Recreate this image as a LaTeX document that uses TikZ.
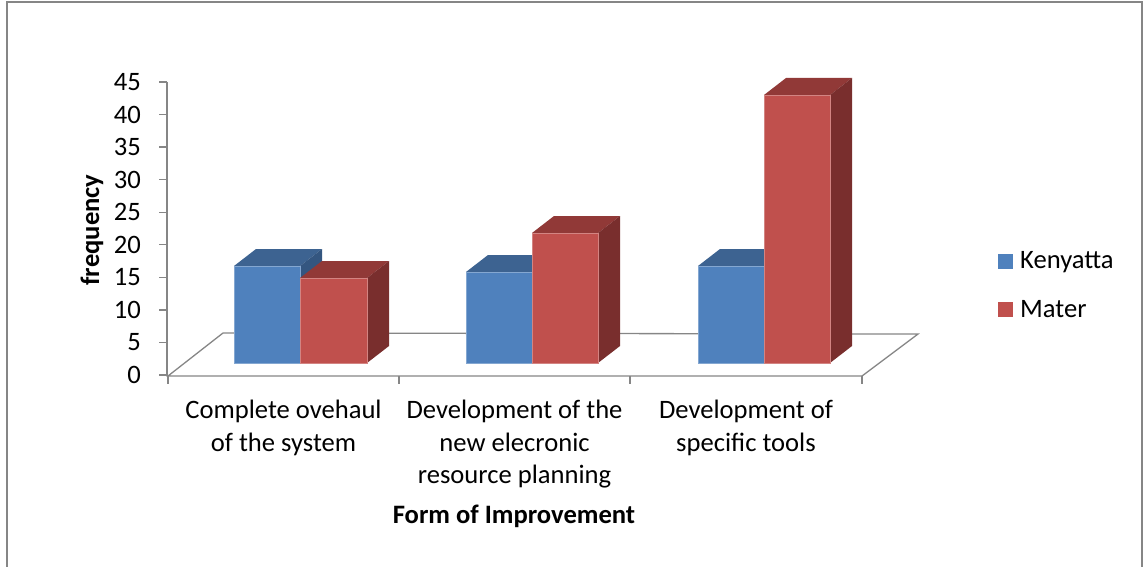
\documentclass[tikz,border=0pt]{standalone}
\usepackage{fontspec}
\setmainfont{Carlito}
\usepackage{tikz}
\definecolor{kenFront}{RGB}{79,129,189}
\definecolor{kenTop}{RGB}{61,99,145}
\definecolor{kenSide}{RGB}{52,86,128}
\definecolor{matFront}{RGB}{192,80,77}
\definecolor{matTop}{RGB}{145,57,55}
\definecolor{matSide}{RGB}{121,46,45}
\definecolor{axisGray}{RGB}{134,134,134}
\tikzstyle{axisLine}=[draw = axisGray, line width = 1.3pt]
\tikzstyle{labelText}=[font = \fontsize{26.6}{32.5}\selectfont, inner sep = 0pt]
\tikzstyle{valueLabel}=[labelText, anchor = east]

\begin{document}
\begin{tikzpicture}[x = 1pt, y = -1pt]
\tikzstyle{kenyattaFace}=[fill = kenFront, draw = kenFront!70!white, line width = 0.6pt]
\tikzstyle{materFace}=[fill = matFront, draw = matFront!70!white, line width = 0.6pt]
\tikzstyle{categoryLabel}=[labelText, align = center, anchor = north]
\useasboundingbox (0,0) rectangle (1144,567);
\draw[draw = axisGray, line width = 1.3pt] (7,2) rectangle (1142,580);
% floor
\draw[axisLine] (168,376) -- (862,376) -- (918,334) -- (223,333) -- cycle;
\draw[axisLine] (168,376) -- (168,384);
\draw[axisLine] (399,376) -- (399,384);
\draw[axisLine] (630,376) -- (630,384);
\draw[axisLine] (862,376) -- (862,384);
% value axis
\draw[axisLine] (167,82) -- (167,376);
\draw[axisLine] (159,375.0) -- (167,375.0);
\draw[axisLine] (159,342.4) -- (167,342.4);
\draw[axisLine] (159,309.9) -- (167,309.9);
\draw[axisLine] (159,277.3) -- (167,277.3);
\draw[axisLine] (159,244.8) -- (167,244.8);
\draw[axisLine] (159,212.2) -- (167,212.2);
\draw[axisLine] (159,179.7) -- (167,179.7);
\draw[axisLine] (159,147.1) -- (167,147.1);
\draw[axisLine] (159,114.6) -- (167,114.6);
\draw[axisLine] (159,82.0) -- (167,82.0);
\node[valueLabel] (v0) at (141,375.0) {0};
\node[valueLabel] (v5) at (141,342.4) {5};
\node[valueLabel] (v10) at (141,309.9) {10};
\node[valueLabel] (v15) at (141,277.3) {15};
\node[valueLabel] (v20) at (141,244.8) {20};
\node[valueLabel] (v25) at (141,212.2) {25};
\node[valueLabel] (v30) at (141,179.7) {30};
\node[valueLabel] (v35) at (141,147.1) {35};
\node[valueLabel] (v40) at (141,114.6) {40};
\node[valueLabel] (v45) at (141,82.0) {45};
% complete overhaul
\fill[kenTop] (234,266) -- (300,266) -- (322,249) -- (256,249) -- cycle;
\fill[kenSide] (300,266) -- (322,249) -- (322,346) -- (300,363) -- cycle;
\draw[kenyattaFace] (234,266) rectangle (300,363);
\fill[matTop] (300,278) -- (367,278) -- (389,261) -- (322,261) -- cycle;
\fill[matSide] (367,278) -- (389,261) -- (389,346) -- (367,363) -- cycle;
\draw[materFace] (300,278) rectangle (367,363);
% electronic resource planning
\fill[kenTop] (466,272) -- (532,272) -- (554,255) -- (488,255) -- cycle;
\draw[kenyattaFace] (466,272) rectangle (532,363);
\fill[matTop] (532,233) -- (598,233) -- (620,216) -- (554,216) -- cycle;
\fill[matSide] (598,233) -- (620,216) -- (620,346) -- (598,363) -- cycle;
\draw[materFace] (532,233) rectangle (598,363);
% specific tools
\fill[kenTop] (698,266) -- (764,266) -- (786,249) -- (720,249) -- cycle;
\draw[kenyattaFace] (698,266) rectangle (764,363);
\fill[matTop] (764,95) -- (830,95) -- (852,78) -- (786,78) -- cycle;
\fill[matSide] (830,95) -- (852,78) -- (852,346) -- (830,363) -- cycle;
\draw[materFace] (764,95) rectangle (830,363);
% labels
\node[categoryLabel] (c1) at (283.5,400) {Complete ovehaul\\of the system};
\node[categoryLabel] (c2) at (514.5,400) {Development of the\\new elecronic\\resource planning};
\node[categoryLabel] (c3) at (746,400) {Development of\\specific tools};
\node[labelText, font = \fontsize{26.6}{32.5}\selectfont\bfseries] (xTitle) at (514,516) {Form of Improvement};
\node[labelText, font = \fontsize{26.6}{32.5}\selectfont\bfseries, rotate = 90] (yTitle) at (92,230) {frequency};
% legend
\fill[kenFront] (998,254) rectangle (1013,269);
\node[labelText, anchor = west] (kenyatta) at (1020,262) {Kenyatta};
\fill[matFront] (998,302) rectangle (1013,317);
\node[labelText, anchor = west] (mater) at (1020,309) {Mater};
\end{tikzpicture}
\end{document}
